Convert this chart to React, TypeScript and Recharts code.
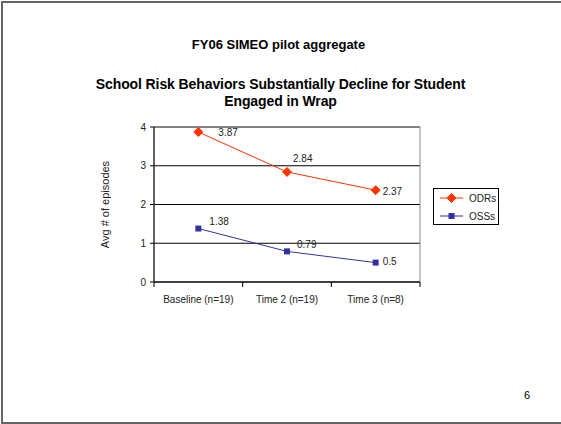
import { LineChart, Line, XAxis, YAxis, CartesianGrid, ReferenceArea, LabelList } from "recharts";

const categories = ["Baseline (n=19)", "Time 2 (n=19)", "Time 3 (n=8)"];
const odrs = [3.87, 2.84, 2.37];
const osss = [1.38, 0.79, 0.5];
const yTicks = [0, 1, 2, 3, 4];

const RED = "#FF3300";
const BLUE = "#3333A0";
const FONT = "'Liberation Sans', Arial, sans-serif";

// label nudges copied from the slide (Excel labels were dragged by hand)
const odrLabelShift = [
  [20, 0],
  [6, -13],
  [7, 1],
];
const ossLabelShift = [
  [11, -7],
  [10, -7],
  [7, -1],
];

const data = categories.map((c, i) => ({ x: i + 0.5, name: c, odrs: odrs[i], osss: osss[i] }));
const xTicks = [0, 0.5, 1, 1.5, 2, 2.5, 3];

const XTick = (props: any) => {
  const { x, y, payload } = props;
  const v = payload.value;
  if (Number.isInteger(v)) {
    return <line x1={x} x2={x} y1={y} y2={y + 5} stroke="#000" />;
  }
  return (
    <text x={x} y={y + 21} textAnchor="middle" fontSize={10} fontFamily={FONT} fill="#222">
      {categories[Math.floor(v)]}
    </text>
  );
};

const Diamond = (props: any) => {
  const { cx, cy } = props;
  const r = 4.5;
  return <path d={`M${cx},${cy - r}L${cx + r},${cy}L${cx},${cy + r}L${cx - r},${cy}Z`} fill={RED} stroke={RED} />;
};

const Square = (props: any) => {
  const { cx, cy } = props;
  return <rect x={cx - 3} y={cy - 3} width={6} height={6} fill={BLUE} />;
};

const makeLabel = (shift: number[][]) => (props: any) => {
  const { x, y, value, index } = props;
  const [dx, dy] = shift[index] || [8, 0];
  return (
    <text x={x + dx} y={y + dy} dominantBaseline="central" fontSize={10} fontFamily={FONT} fill="#222">
      {value}
    </text>
  );
};

const LegendBox = () => (
  <div style={{ position: "absolute", left: 433, top: 188, border: "1px solid #000", width: 64, height: 35, background: "#fff", fontFamily: FONT, fontSize: 10 }}>
    <svg width={64} height={35} style={{ display: "block" }}>
      <line x1={6} x2={29} y1={9} y2={9} stroke={RED} />
      <Diamond cx={17.5} cy={9} />
      <text x={35} y={9} dominantBaseline="central" fontSize={10} fill="#222">ODRs</text>
      <line x1={6} x2={29} y1={27} y2={27} stroke={BLUE} />
      <Square cx={17.5} cy={27} />
      <text x={35} y={27} dominantBaseline="central" fontSize={10} fill="#222">OSSs</text>
    </svg>
  </div>
);

export default function App() {
  return (
    <div style={{ position: "absolute", left: 0, top: 0, width: 561, height: 424, background: "#fff", fontFamily: FONT, overflow: "hidden" }}>
      <div
        style={{
          position: "absolute",
          left: 1,
          top: 1,
          width: 570,
          height: 419,
          borderTop: "2px solid #666",
          borderLeft: "2px solid #666",
          borderBottom: "2px solid #666",
        }}
      />
      <div style={{ position: "absolute", left: 0, width: 561, top: 37, textAlign: "center", fontWeight: "bold", fontSize: 13, color: "#000" }}>
        <span style={{ marginLeft: -4 }}>FY06 SIMEO pilot aggregate</span>
      </div>
      <div style={{ position: "absolute", left: 0, width: 561, top: 76, textAlign: "center", fontWeight: "bold", fontSize: 14, lineHeight: "17px", letterSpacing: -0.1, color: "#000" }}>
        School Risk Behaviors Substantially Decline for Student
        <br />
        Engaged in Wrap
      </div>
      <div style={{ position: "absolute", left: 524, top: 389, fontSize: 11, color: "#000" }}>6</div>
      <div style={{ position: "absolute", left: 0, top: 0 }}>
        <LineChart width={561} height={424} data={data} margin={{ top: 127, right: 141, bottom: 112, left: 94 }}>
          <CartesianGrid horizontal vertical={false} stroke="#000" />
          <ReferenceArea x1={0} x2={3} y1={0} y2={4} fill="none" stroke="#888" ifOverflow="visible" />
          <XAxis
            dataKey="x"
            type="number"
            domain={[0, 3]}
            ticks={xTicks}
            interval={0}
            height={30}
            tickLine={false}
            tickSize={0}
            tickMargin={0}
            tick={<XTick />}
            stroke="#000"
          />
          <YAxis
            type="number"
            domain={[0, 4]}
            ticks={yTicks}
            width={60}
            tickSize={4}
            tickMargin={4}
            tick={{ fontSize: 10, fontFamily: FONT, fill: "#222" }}
            stroke="#000"
            label={{ value: "Avg # of episodes", angle: -90, position: "insideLeft", offset: 11, style: { fontSize: 11, fontFamily: FONT, fill: "#222", textAnchor: "middle" } }}
          />
          <Line dataKey="odrs" name="ODRs" stroke={RED} strokeWidth={1} dot={<Diamond />} activeDot={false} isAnimationActive={false}>
            <LabelList dataKey="odrs" content={makeLabel(odrLabelShift)} />
          </Line>
          <Line dataKey="osss" name="OSSs" stroke={BLUE} strokeWidth={1} dot={<Square />} activeDot={false} isAnimationActive={false}>
            <LabelList dataKey="osss" content={makeLabel(ossLabelShift)} />
          </Line>
        </LineChart>
      </div>
      <LegendBox />
    </div>
  );
}
